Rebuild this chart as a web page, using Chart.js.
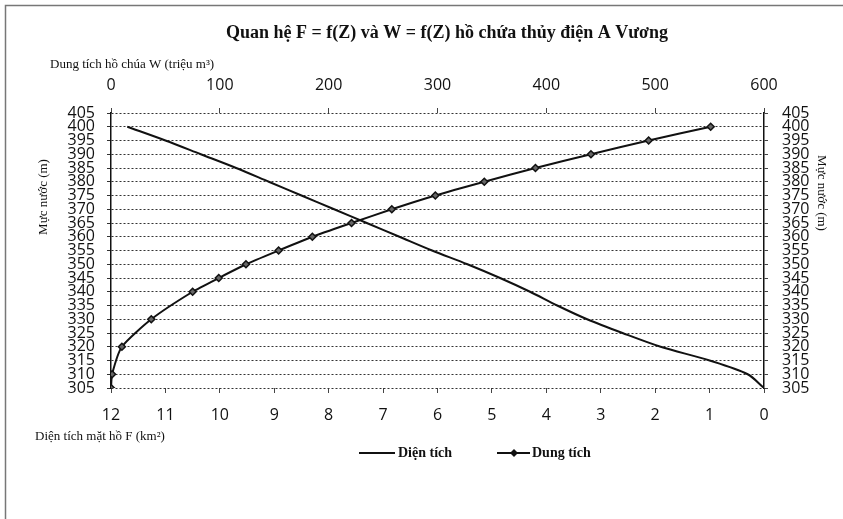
<!DOCTYPE html>
<html>
<head>
<meta charset="utf-8">
<script src="https://cdn.jsdelivr.net/npm/chart.js@4.4.1/dist/chart.umd.min.js"></script>
<style>
  html, body { margin: 0; padding: 0; background: #fff; }
  #wrap { width: 843px; height: 519px; position: relative; }
</style>
</head>
<body>
<div id="wrap"><canvas id="chart" width="843" height="519"></canvas></div>
<script>
// Mực nước Z (m) và diện tích mặt hồ F (km2)
const Z_AREA = [305, 310, 315, 320, 325, 330, 335, 340, 345, 350, 355, 360, 365, 370, 375, 380, 385, 390, 395, 400];
const AREA   = [0, 0.3, 1.0, 1.9, 2.6, 3.25, 3.8, 4.3, 4.85, 5.45, 6.1, 6.7, 7.3, 7.9, 8.5, 9.1, 9.7, 10.35, 11.0, 11.7];

// Mực nước Z (m) và dung tích hồ chứa W (triệu m3)
const Z_VOLUME = [305, 310, 320, 330, 340, 345, 350, 355, 360, 365, 370, 375, 380, 385, 390, 395, 400];
const VOLUME   = [0, 1, 10, 37, 75, 99, 124, 154, 185, 221, 258, 298, 343, 390, 441, 494, 551];

const Z_RANGE = [305, 405];
const F_RANGE = [0, 12];
const W_RANGE = [0, 600];

const TITLE       = 'Quan hệ F = f(Z) và W = f(Z) hồ chứa thủy điện A Vương';
const W_TITLE     = 'Dung tích hồ chúa W (triệu m³)';
const F_TITLE     = 'Diện tích mặt hồ F (km²)';
const Z_TITLE     = 'Mực nước (m)';
const AREA_LABEL  = 'Diện tích';
const VOL_LABEL   = 'Dung tích';

const INK = '#111';
const TICK_FONT = { family: "'Open Sans', sans-serif", size: 16 };
const SERIF = "'Liberation Serif', 'Times New Roman', serif";

const toPoints = (xs, ys) => xs.map((x, i) => ({ x, y: ys[i] }));

// titles, legend and the page frame are drawn by hand
const decorations = {
    id: 'decorations',
    beforeDraw(chart) {
        const { ctx } = chart;
        ctx.save();
        ctx.fillStyle = '#fff';
        ctx.fillRect(0, 0, chart.width, chart.height);
        ctx.strokeStyle = '#777';
        ctx.lineWidth = 1.5;
        ctx.beginPath();
        ctx.moveTo(5.5, 519);
        ctx.lineTo(5.5, 5.5);
        ctx.lineTo(843, 5.5);
        ctx.stroke();
        ctx.restore();
    },
    afterDraw(chart) {
        const { ctx } = chart;
        ctx.save();
        ctx.fillStyle = INK;
        ctx.textBaseline = 'middle';

        ctx.font = `bold 18px ${SERIF}`;
        ctx.textAlign = 'center';
        ctx.fillText(TITLE, 447, 33);

        ctx.font = `13px ${SERIF}`;
        ctx.textAlign = 'left';
        ctx.fillText(W_TITLE, 50, 65);
        ctx.fillText(F_TITLE, 35, 437);

        ctx.textAlign = 'center';
        ctx.save();
        ctx.translate(44, 197);
        ctx.rotate(-Math.PI / 2);
        ctx.fillText(Z_TITLE, 0, 0);
        ctx.restore();
        ctx.save();
        ctx.translate(821, 193);
        ctx.rotate(Math.PI / 2);
        ctx.fillText(Z_TITLE, 0, 0);
        ctx.restore();

        // legend
        const ly = 453;
        ctx.strokeStyle = INK;
        ctx.lineWidth = 2;
        ctx.beginPath();
        ctx.moveTo(359, ly); ctx.lineTo(395, ly);
        ctx.moveTo(497, ly); ctx.lineTo(530, ly);
        ctx.stroke();
        ctx.beginPath();
        ctx.moveTo(514, ly - 4); ctx.lineTo(518, ly); ctx.lineTo(514, ly + 4); ctx.lineTo(510, ly);
        ctx.closePath();
        ctx.fill();
        ctx.font = `bold 14px ${SERIF}`;
        ctx.textAlign = 'left';
        ctx.fillText(AREA_LABEL, 398, ly);
        ctx.fillText(VOL_LABEL, 532, ly);
        ctx.restore();
    }
};

new Chart(document.getElementById('chart').getContext('2d'), {
    type: 'scatter',
    data: {
        datasets: [
            {
                label: AREA_LABEL,
                data: toPoints(AREA, Z_AREA),
                xAxisID: 'x',
                yAxisID: 'y',
                showLine: true,
                borderColor: INK,
                borderWidth: 2,
                pointRadius: 0,
                tension: 0.3,
            },
            {
                label: VOL_LABEL,
                data: toPoints(VOLUME, Z_VOLUME),
                xAxisID: 'x2',
                yAxisID: 'y',
                showLine: true,
                borderColor: INK,
                borderWidth: 2,
                pointStyle: 'rectRot',
                pointRadius: 3.5,
                pointBackgroundColor: '#666',
                pointBorderColor: INK,
                pointBorderWidth: 1.5,
                tension: 0.2,
            },
        ],
    },
    options: {
        responsive: false,
        animation: false,
        layout: { padding: 0 },
        plugins: { legend: { display: false }, title: { display: false }, tooltip: { enabled: false } },
        scales: {
            x: {
                type: 'linear',
                position: 'bottom',
                min: F_RANGE[0], max: F_RANGE[1],
                reverse: true,
                afterFit: s => { s.height = 131; },
                ticks: { stepSize: 1, color: INK, font: TICK_FONT, padding: 13, maxRotation: 0 },
                grid: { drawOnChartArea: false, tickLength: 5, color: '#444' },
                border: { display: false },
            },
            x2: {
                type: 'linear',
                position: 'top',
                min: W_RANGE[0], max: W_RANGE[1],
                afterFit: s => { s.height = 113; },
                ticks: { stepSize: 100, color: INK, font: TICK_FONT, padding: 13, maxRotation: 0 },
                grid: { drawOnChartArea: false, tickLength: 5, color: '#444' },
                border: { display: false },
            },
            y: {
                position: 'left',
                min: Z_RANGE[0], max: Z_RANGE[1],
                afterFit: s => { s.width = 111; },
                ticks: { stepSize: 5, color: INK, font: TICK_FONT, padding: 12, autoSkip: false },
                grid: { color: '#333', lineWidth: 1, tickLength: 4 },
                border: { display: true, color: INK, width: 1.5, dash: [2, 2] },
            },
            y2: {
                position: 'right',
                min: Z_RANGE[0], max: Z_RANGE[1],
                afterFit: s => { s.width = 79; },
                ticks: { stepSize: 5, color: INK, font: TICK_FONT, padding: 14, autoSkip: false },
                grid: { drawOnChartArea: false, tickLength: 4, color: '#444' },
                border: { display: true, color: INK, width: 1.5 },
            },
        },
    },
    plugins: [decorations],
});
</script>
</body>
</html>
